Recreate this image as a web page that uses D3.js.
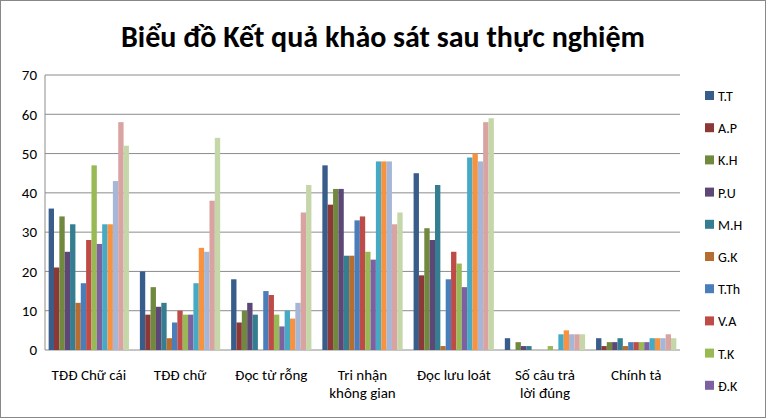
<!DOCTYPE html>
<html><head><meta charset="utf-8">
<script src="https://cdn.jsdelivr.net/npm/d3@7"></script>
<style>body{margin:0;background:#fff}text{font-family:Calibri,Carlito,"Liberation Sans",sans-serif}</style>
</head><body><div id="chart-area"></div>
<script>
var categories = ["TĐĐ Chữ cái", "TĐĐ chữ", "Đọc từ rỗng", "Tri nhận\nkhông gian", "Đọc lưu loát", "Số câu trả\nlời đúng", "Chính tả"];
var seriesNames = ["T.T","A.P","K.H","P.U","M.H","G.K","T.Th","V.A","T.K","Đ.K","S11","S12","S13","S14","S15"];
var colors = ["#385D8A","#8C3836","#71893F","#5C4776","#357D91","#B66D31","#4A7EBB","#BE4B48","#98B954","#7D60A0","#46AAC5","#F69240","#A5B6D7","#D9A3A2","#C5D7A9"];
// values[category][series]
var values = [
  [36,21,34,25,32,12,17,28,47,27,32,32,43,58,52],
  [20,9,16,11,12,3,7,10,9,9,17,26,25,38,54],
  [18,7,10,12,9,0,15,14,9,6,10,8,12,35,42],
  [47,37,41,41,24,24,33,34,25,23,48,48,48,32,35],
  [45,19,31,28,42,1,18,25,22,16,49,50,48,58,59],
  [3,0,2,1,1,0,0,0,1,0,4,5,4,4,4],
  [3,1,2,2,3,1,2,2,2,2,3,3,3,4,3]
];
var yTicks = [0,10,20,30,40,50,60,70];
var legendShown = 10;

var W = 766, H = 418;
var margin = {left:45, right:86, top:75, bottom:68};
var width = W - margin.left - margin.right, height = H - margin.top - margin.bottom;

var svg = d3.select("#chart-area").append("svg").attr("width", W).attr("height", H);
svg.append("rect").attr("x",0.5).attr("y",0.5).attr("width",W-1).attr("height",H-1)
  .attr("fill","#fff").attr("stroke","#888");

svg.append("text").attr("x", 383).attr("y", 47).attr("text-anchor","middle")
  .attr("font-size","30px").attr("font-weight","bold").text("Biểu đồ Kết quả khảo sát sau thực nghiệm");

var g = svg.append("g").attr("transform","translate("+margin.left+","+margin.top+")");
var x = d3.scaleBand().domain(categories).range([0,width]).paddingInner(0.12).paddingOuter(0.04);
var xs = d3.scaleBand().domain(d3.range(seriesNames.length)).range([0,x.bandwidth()]);
var y = d3.scaleLinear().domain([0,70]).range([height,0]);

g.append("g").selectAll("line").data(yTicks).enter().append("line")
  .attr("x1",0).attr("x2",width).attr("y1",d=>y(d)).attr("y2",d=>y(d))
  .attr("stroke","#8c8c8c").attr("stroke-width",1);
g.append("line").attr("x1",0).attr("x2",0).attr("y1",0).attr("y2",height).attr("stroke","#8c8c8c");

var yAxis = g.append("g").call(d3.axisLeft(y).tickValues(yTicks).tickSize(0).tickPadding(8));
yAxis.select(".domain").remove();
yAxis.selectAll("text").attr("font-size","15px").attr("fill","#000");

categories.forEach((c,ci) => {
  g.append("g").selectAll("rect").data(values[ci]).enter().append("rect")
    .attr("x",(d,i)=>x(c)+xs(i)).attr("y",d=>y(d))
    .attr("width",xs.bandwidth()).attr("height",d=>height-y(d))
    .attr("fill",(d,i)=>colors[i]);
  var t = g.append("text").attr("x", x(c)+x.bandwidth()/2).attr("y", height+30)
    .attr("text-anchor","middle").attr("font-size","15px");
  c.split("\n").forEach((line,li) => t.append("tspan").attr("x", x(c)+x.bandwidth()/2).attr("dy", li?18:0).text(line));
});

var lg = svg.append("g").attr("transform","translate(705,96)");
seriesNames.slice(0,legendShown).forEach((n,i) => {
  lg.append("rect").attr("x",0).attr("y",i*32.2-5).attr("width",9).attr("height",9).attr("fill",colors[i]);
  lg.append("text").attr("x",13).attr("y",i*32.2+5).attr("font-size","14px").text(n);
});
</script></body></html>
